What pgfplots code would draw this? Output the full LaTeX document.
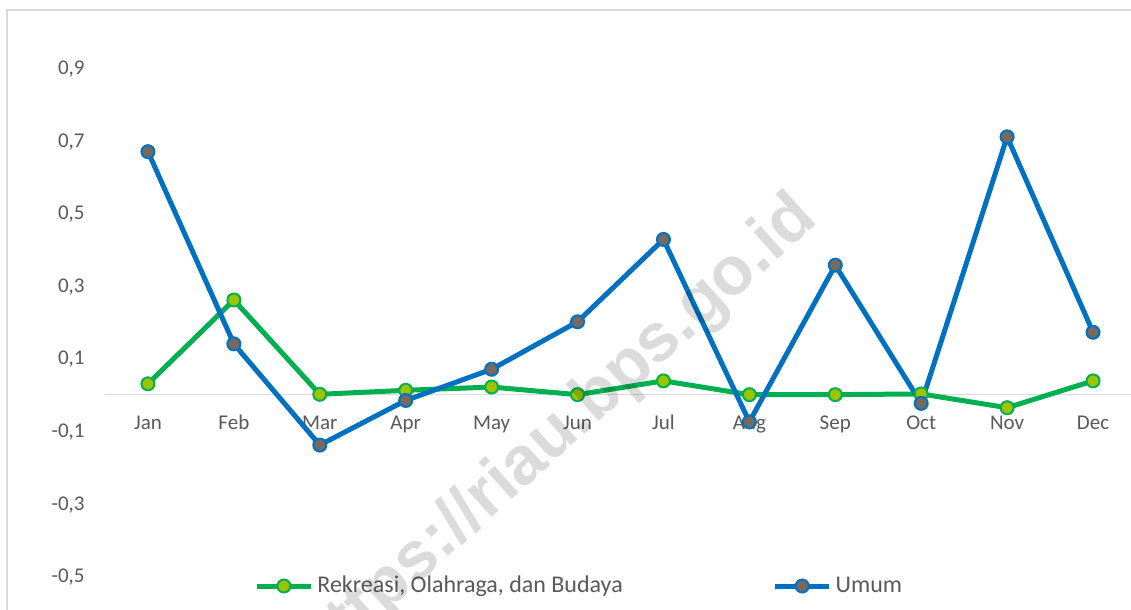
\documentclass[border=0pt]{standalone}
\usepackage{pgfplots}
\pgfplotsset{compat=1.18}
\usepackage{fontspec}
\setmainfont{Carlito}
\newfontfamily\wmfont{Liberation Sans}
\definecolor{ggreen}{HTML}{00B050}
\definecolor{gmark}{HTML}{9CC400}
\definecolor{bblue}{HTML}{0070C0}
\definecolor{bmark}{HTML}{766A5F}
\definecolor{textgray}{HTML}{595959}
\definecolor{linegray}{HTML}{D9D9D9}
\begin{document}
\begin{tikzpicture}
\path[use as bounding box] (0,0) rectangle (565.5pt,305pt);
\clip (0,0) rectangle (565.5pt,305pt);
\draw[color=linegray, line width=0.75pt] (3.5pt,-5pt) -- (3.5pt,300pt) -- (600pt,300pt);
\begin{axis}[
  scale only axis, width=515.5pt, height=272pt,
  at={(52.5pt,17pt)}, anchor=south west,
  xmin=0.5, xmax=12.5, ymin=-0.5, ymax=1.0,
  axis x line=middle, axis y line=left,
  x axis line style={draw=linegray, line width=0.75pt, -},
  y axis line style={draw=none},
  xtick={1,...,12},
  xticklabels={Jan,Feb,Mar,Apr,May,Jun,Jul,Aug,Sep,Oct,Nov,Dec},
  ytick={-0.5,-0.3,-0.1,0.1,0.3,0.5,0.7,0.9},
  yticklabels={{-0,5},{-0,3},{-0,1},{0,1},{0,3},{0,5},{0,7},{0,9}},
  major tick length=0pt,
  tick style={draw=none},
  xticklabel style={anchor=base, yshift=-17.25pt, font=\fontsize{10.5}{12}\selectfont, text=textgray},
  yticklabel style={anchor=base east, inner sep=0pt, xshift=-10pt, yshift=-3.3pt, font=\fontsize{10.5}{12}\selectfont, text=textgray},
  clip=false,
  legend columns=2,
  legend style={at={(0.1445,-0.0184)}, anchor=west, draw=none, fill=none, inner sep=0pt,
    font=\fontsize{12}{14}\selectfont, text=textgray,
    /tikz/every even column/.append style={column sep=73pt}},
  legend image code/.code={\draw[#1, mark repeat=2, mark phase=2] plot coordinates {(0pt,0pt) (13.5pt,0pt) (27pt,0pt)};},
]
\addplot[draw=ggreen, line width=2.5pt, mark=*, mark size=3.25pt, mark options={fill=gmark, draw=ggreen, line width=1pt}]
coordinates {(1,0.030) (2,0.261) (3,0.001) (4,0.012) (5,0.021) (6,0.0) (7,0.038) (8,0.0) (9,0.0) (10,0.002) (11,-0.036) (12,0.038)};
\addlegendentry{Rekreasi, Olahraga, dan Budaya}
\addplot[draw=bblue, line width=2.5pt, mark=*, mark size=3.25pt, mark options={fill=bmark, draw=bblue, line width=1pt}]
coordinates {(1,0.670) (2,0.140) (3,-0.139) (4,-0.016) (5,0.070) (6,0.201) (7,0.428) (8,-0.075) (9,0.357) (10,-0.024) (11,0.711) (12,0.172)};
\addlegendentry{Umum}
\end{axis}
\node[rotate=42, anchor=base east, inner sep=0pt, font=\wmfont\bfseries\fontsize{34}{34}\selectfont, text=black, opacity=0.14] at (410pt,194pt) {https://riau.bps.go.id};
\end{tikzpicture}
\end{document}
